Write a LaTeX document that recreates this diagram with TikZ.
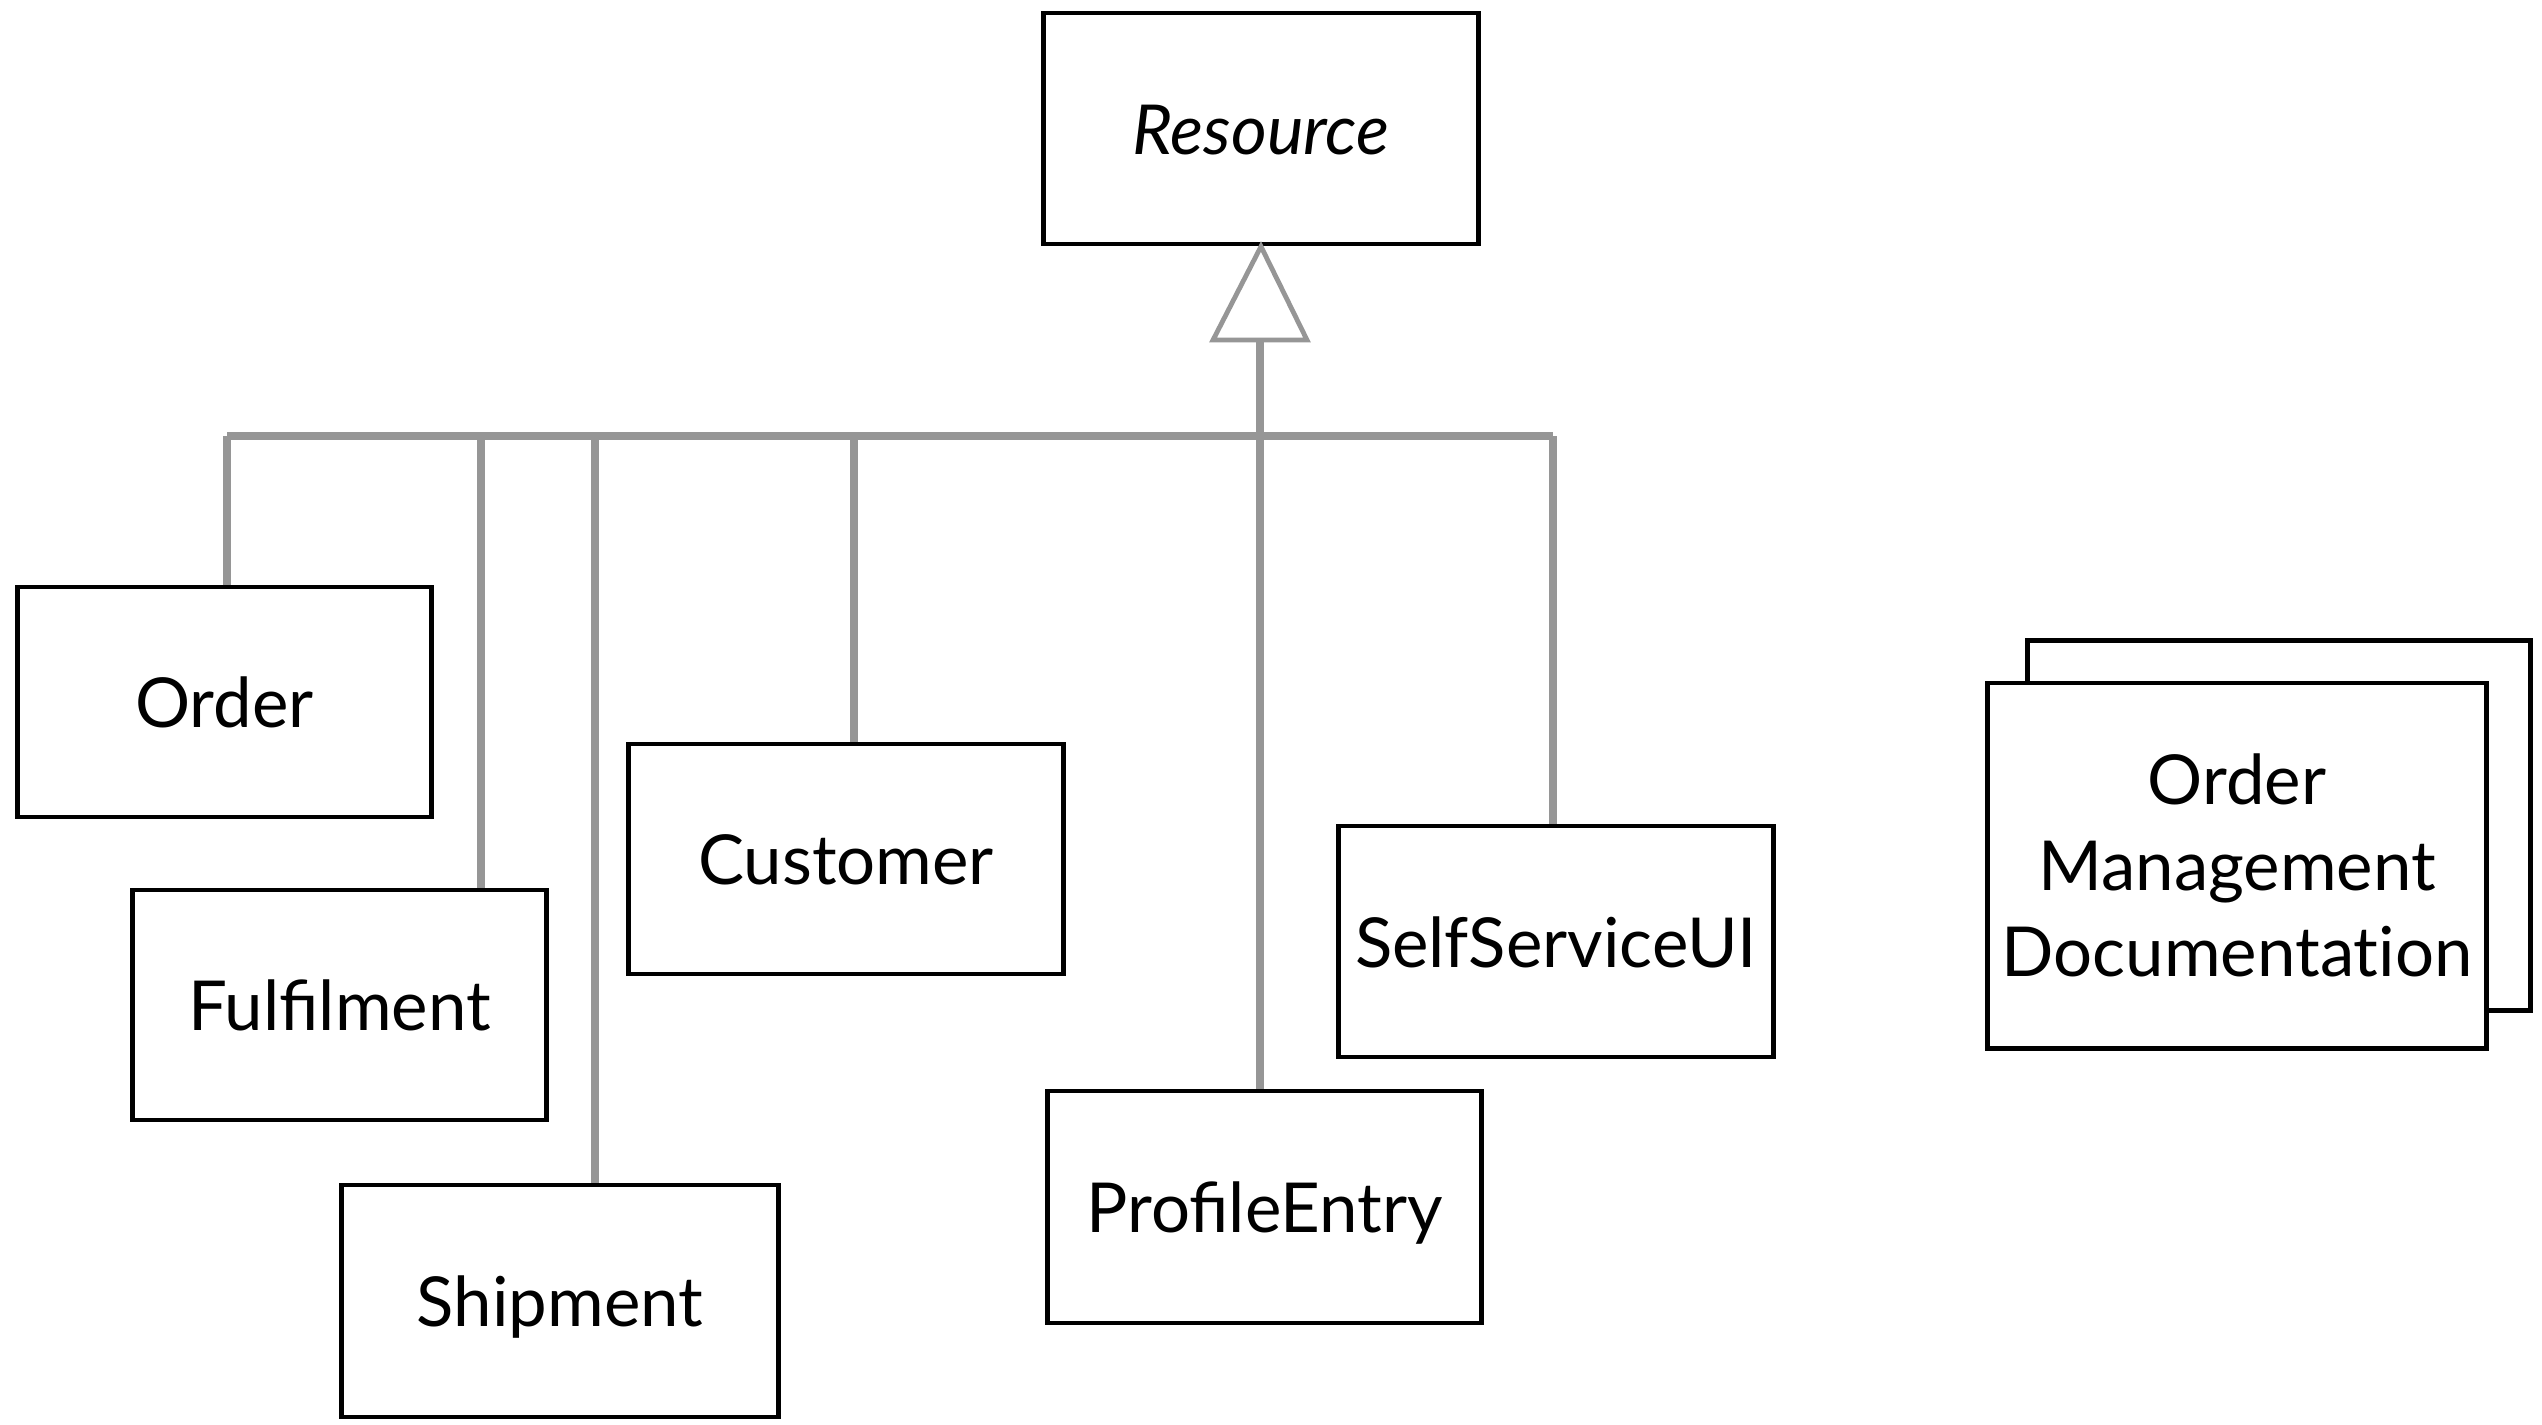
\documentclass[tikz,border=0pt]{standalone}
\usepackage{fontspec}
\setmainfont{Lato}
\usetikzlibrary{calc}
\definecolor{linegray}{RGB}{150,150,150}
\begin{document}
\begin{tikzpicture}[x=0.01cm,y=-0.01cm,
  cls/.style={draw=black, line width=0.048cm, fill=white, inner sep=0pt,
    font=\fontsize{19.6}{24.5}\selectfont, text height=0.51cm, text depth=0pt},
  docbox/.style={draw=black, line width=0.048cm, fill=white, inner sep=0pt,
    font=\fontsize{19.6}{24.5}\selectfont, align=center},
  gen/.style={draw=linegray, line width=0.072cm},
  genhead/.style={draw=linegray, line width=0.048cm, fill=white, line join=miter},
]
\useasboundingbox (0,0) rectangle (2542,1424);

% classes
\node[cls, minimum width=4.34cm, minimum height=2.31cm] (res) at (1261,128.5) {\itshape Resource};
\node[cls, minimum width=4.13cm, minimum height=2.30cm] (order) at (224.5,702) {Order};
\node[cls, minimum width=4.13cm, minimum height=2.30cm] (fulfil) at (339.5,1005) {Fulfilment};
\node[cls, minimum width=4.36cm, minimum height=2.32cm] (ship) at (560,1301) {Shipment};
\node[cls, minimum width=4.34cm, minimum height=2.30cm] (cust) at (846,859) {Customer};
\node[cls, minimum width=4.33cm, minimum height=2.32cm] (prof) at (1264.5,1207) {ProfileEntry};
\node[cls, minimum width=4.34cm, minimum height=2.31cm] (self) at (1556,941.5) {SelfServiceUI};

% stacked documentation
\node[docbox, minimum width=5.02cm, minimum height=3.69cm] (docback) at (2279,825.5) {};
\node[docbox, minimum width=4.98cm, minimum height=3.65cm] (doc) at (2237,865.5) {Order\\Management\\Documentat\kern0pt ion};

% generalisation tree
\coordinate (jo) at (227,436);
\coordinate (jf) at (481,436);
\coordinate (js) at (595,436);
\coordinate (jc) at (854,436);
\coordinate (jp) at (1260,436);
\coordinate (jss) at (1553,436);
\coordinate (tribase) at (1260,340);

\draw[gen] (jo) -- (jss);
\draw[gen] (jo) -- (jo |- order.north);
\draw[gen] (jf) -- (jf |- fulfil.north);
\draw[gen] (js) -- (js |- ship.north);
\draw[gen] (jc) -- (jc |- cust.north);
\draw[gen] (jss) -- (jss |- self.north);
\draw[gen] (tribase) -- (tribase |- prof.north);

% hollow inheritance head
\draw[genhead] (tribase) -- ++(-47,0) -- (res.south) -- ($(tribase)+(47,0)$) -- cycle;
\end{tikzpicture}
\end{document}
